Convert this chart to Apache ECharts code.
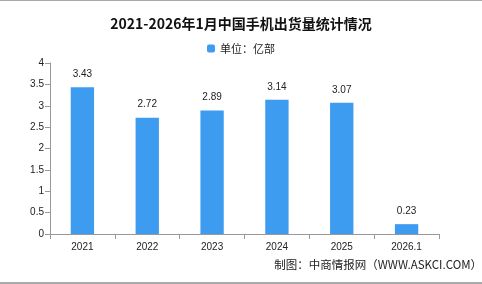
<!DOCTYPE html>
<html><head><meta charset="utf-8">
<script src="https://cdn.jsdelivr.net/npm/echarts@6/dist/echarts.min.js"></script>
<style>html,body{margin:0;padding:0;background:#fff}#c{width:482px;height:284px;border-top:1px solid #aaa;border-bottom:2px solid #aaa;box-sizing:border-box}</style>
</head><body><div id="c"></div>
<script>
const categories = ['2021','2022','2023','2024','2025','2026.1'];
const values = [3.43, 2.72, 2.89, 3.14, 3.07, 0.23];
const seriesName = '单位：亿部';
const titleText = '2021-2026年1月中国手机出货量统计情况';
const sourceText = '制图：中商情报网（WWW.ASKCI.COM）';

const chart = echarts.init(document.getElementById('c'));
chart.setOption({
  animation: false,
  title: {text: titleText, left: 'center', top: 11, textStyle:{fontSize:14, fontWeight:'bold', color:'#111', fontFamily:'Noto Sans CJK SC'}},
  legend: {data:[seriesName], top: 37, left:'center', itemWidth:8, itemHeight:8, itemGap:4, textStyle:{fontSize:11, color:'#222', fontFamily:'Noto Sans CJK SC'}},
  graphic: [{type:'text', right: 0, top: 258, style:{text: sourceText, fontSize: 11.5, fill:'#222', fontFamily:'Noto Sans CJK SC'}}],
  grid: {left: 50, right: 43, top: 62, bottom: 48},
  xAxis: {type:'category', data: categories, axisLine:{lineStyle:{color:'#999'}}, axisTick:{show:true, lineStyle:{color:'#999'}}, axisLabel:{fontSize:10, color:'#222', margin:8}},
  yAxis: {type:'value', min:0, max:4, interval:0.5, splitLine:{show:false}, axisLine:{show:true, lineStyle:{color:'#999'}}, axisTick:{show:true, lineStyle:{color:'#999'}}, axisLabel:{fontSize:10, color:'#222', margin:6}},
  series: [{name: seriesName, type:'bar', data: values, barWidth:'36%', itemStyle:{color:'#3d9cf0'}, label:{show:true, position:'top', fontSize:10, color:'#222', distance:8}}]
});
</script></body></html>
